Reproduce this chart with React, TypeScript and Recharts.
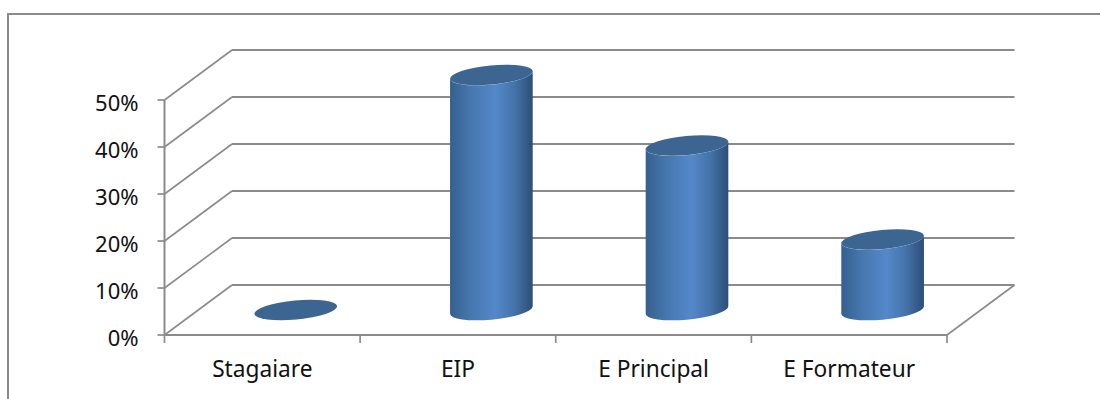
import React from "react";
import { BarChart, Bar, XAxis, YAxis, CartesianGrid } from "recharts";

// Share of respondents per training role, in percent.
const categories = ["Stagaiare", "EIP", "E Principal", "E Formateur"];
const shares = [0, 50, 35, 15];
const yTicks = [0, 10, 20, 30, 40, 50];

const rows = categories.map((name, i) => ({ name, share: shares[i] }));

const LINE = "#8b8b8b";
const FONT = "'Noto Sans', 'Open Sans', sans-serif";
// Oblique projection of the floor: how far the back wall sits from the front edge.
const DEPTH_X = 67.5;
const DEPTH_Y = 50;
const TILT = -5.5;
const RY = 9.6;

function WallLine(props: any) {
  const { x1, x2, y1, index } = props;
  const backX1 = x1 + DEPTH_X;
  const backX2 = x2 + DEPTH_X;
  const backY = y1 - DEPTH_Y;
  return (
    <g>
      <line x1={x1} y1={y1} x2={backX1} y2={backY} stroke={LINE} strokeWidth={1.6} />
      <line x1={backX1} y1={backY} x2={backX2} y2={backY} stroke={LINE} strokeWidth={2} />
      {index === 0 && <line x1={backX2} y1={backY} x2={x2} y2={y1} stroke={LINE} strokeWidth={1.6} />}
    </g>
  );
}

// Cylinder standing halfway into the floor, with a tilted elliptical cap.
function Cylinder(props: any) {
  const { x, y, width, height } = props;
  const rx = width / 2;
  const cx = x + rx + DEPTH_X / 2;
  const topY = y - DEPTH_Y / 2;
  const baseY = y + height - DEPTH_Y / 2;
  const t = (TILT * Math.PI) / 180;
  const ex = Math.sqrt(rx * rx * Math.cos(t) ** 2 + RY * RY * Math.sin(t) ** 2);
  const ey = ((rx * rx - RY * RY) * Math.sin(t) * Math.cos(t)) / ex;
  const body =
    `M ${cx - ex} ${topY - ey} L ${cx - ex} ${baseY - ey} ` +
    `A ${rx} ${RY} ${TILT} 0 0 ${cx + ex} ${baseY + ey} ` +
    `L ${cx + ex} ${topY + ey} ` +
    `A ${rx} ${RY} ${TILT} 0 1 ${cx - ex} ${topY - ey} Z`;
  return (
    <g>
      {height > 0 && <path d={body} fill="url(#cylinderSide)" />}
      <ellipse
        cx={cx}
        cy={topY}
        rx={rx}
        ry={RY}
        fill="#3d6592"
        transform={`rotate(${TILT} ${cx} ${topY})`}
      />
    </g>
  );
}

// Category label plus the separator ticks on either side of its slot.
function CategoryTick(props: any) {
  const { x, y, payload, index, width } = props;
  const half = width / categories.length / 2;
  const axisY = y - 8;
  return (
    <g>
      <line x1={x - half} y1={axisY} x2={x - half} y2={axisY + 8} stroke={LINE} strokeWidth={1.7} />
      {index === categories.length - 1 && (
        <line x1={x + half} y1={axisY} x2={x + half} y2={axisY + 8} stroke={LINE} strokeWidth={1.7} />
      )}
      <text x={x} y={y + 34} textAnchor="middle" fontFamily={FONT} fontSize={22.7} fill="#111">
        {payload.value}
      </text>
    </g>
  );
}

export default function App() {
  return (
    <div style={{ position: "absolute", left: 0, top: 0, width: 1100, height: 399, overflow: "hidden", background: "#fff" }}>
      <div
        style={{
          position: "absolute",
          left: 6.5,
          top: 13,
          width: 1100,
          height: 400,
          borderLeft: `2px solid ${LINE}`,
          borderTop: `2px solid ${LINE}`,
        }}
      />
      <BarChart
        width={1100}
        height={399}
        data={rows}
        margin={{ top: 100, right: 153, bottom: 34, left: 104.5 }}
        style={{ position: "absolute", left: 0, top: 0 }}
      >
        <defs>
          <linearGradient id="cylinderSide" x1="0" y1="0" x2="1" y2="0">
            <stop offset="0%" stopColor="#35608f" />
            <stop offset="25%" stopColor="#4677ae" />
            <stop offset="55%" stopColor="#5488c9" />
            <stop offset="78%" stopColor="#4473aa" />
            <stop offset="100%" stopColor="#2c4e77" />
          </linearGradient>
        </defs>
        <CartesianGrid vertical={false} horizontal={(p: any) => <WallLine {...p} />} />
        <XAxis
          dataKey="name"
          height={30}
          interval={0}
          tickLine={false}
          axisLine={{ stroke: LINE, strokeWidth: 2 }}
          tick={<CategoryTick />}
        />
        <YAxis
          width={60}
          domain={[0, 50]}
          ticks={yTicks}
          tickFormatter={(v: number) => `${v}%`}
          tickSize={7}
          tickMargin={19}
          axisLine={{ stroke: LINE, strokeWidth: 2 }}
          tickLine={{ stroke: LINE, strokeWidth: 1.7 }}
          tick={{ fontFamily: FONT, fontSize: 22, fill: "#111", dy: 3 }}
        />
        <Bar dataKey="share" barSize={83} shape={<Cylinder />} isAnimationActive={false} />
      </BarChart>
    </div>
  );
}
